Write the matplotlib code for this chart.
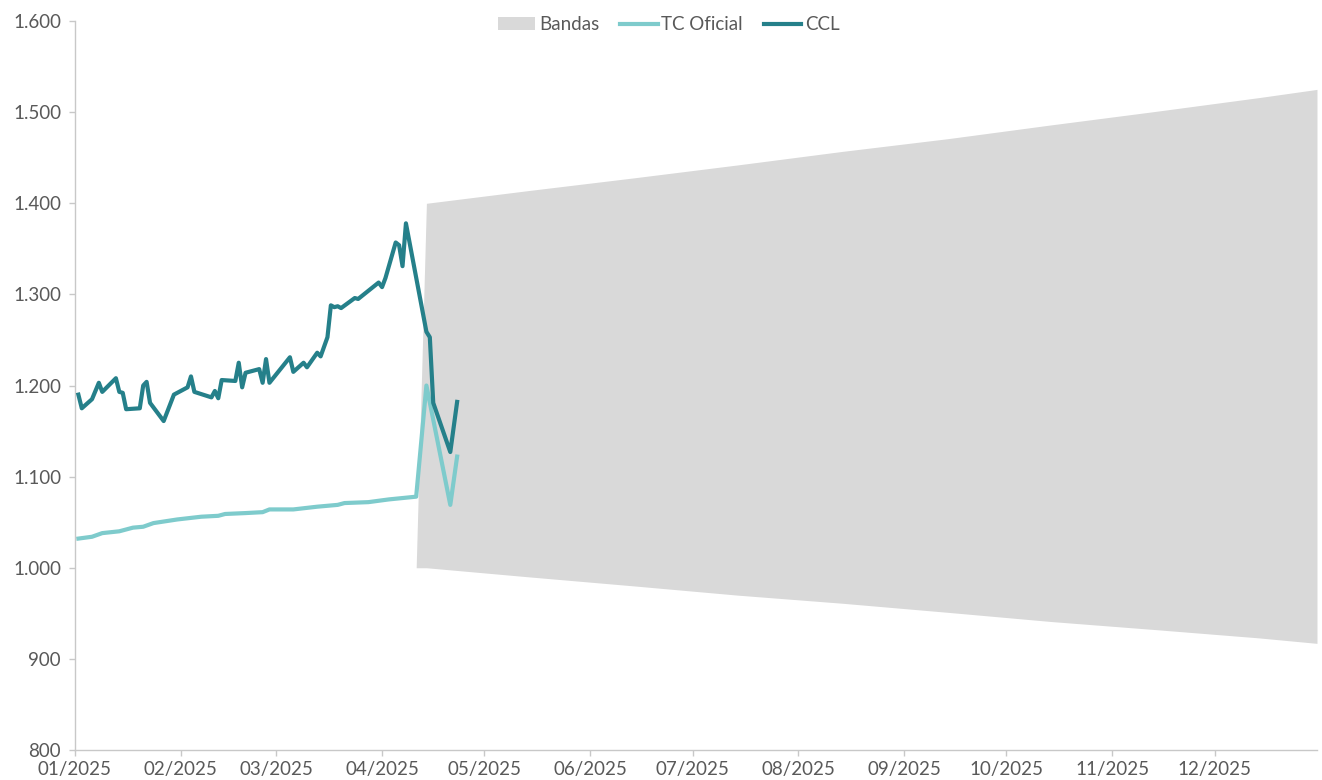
import numpy as np
import pandas as pd
import matplotlib
matplotlib.use("Agg")
import matplotlib.pyplot as plt
import matplotlib.dates as mdates
from matplotlib.ticker import FuncFormatter
from matplotlib.patches import Patch
from matplotlib.lines import Line2D

# CCL quotes
ccl_dates = ["2025-01-02", "2025-01-03", "2025-01-06", "2025-01-08", "2025-01-09",
             "2025-01-13", "2025-01-14", "2025-01-15", "2025-01-16", "2025-01-20",
             "2025-01-21", "2025-01-22", "2025-01-23", "2025-01-27", "2025-01-30",
             "2025-02-03", "2025-02-04", "2025-02-05", "2025-02-10", "2025-02-11",
             "2025-02-12", "2025-02-13", "2025-02-17", "2025-02-18", "2025-02-19",
             "2025-02-20", "2025-02-24", "2025-02-25", "2025-02-26", "2025-02-27",
             "2025-03-05", "2025-03-06", "2025-03-09", "2025-03-10", "2025-03-13",
             "2025-03-14", "2025-03-16", "2025-03-17", "2025-03-18", "2025-03-19",
             "2025-03-20", "2025-03-24", "2025-03-25", "2025-03-31", "2025-04-01",
             "2025-04-02", "2025-04-05", "2025-04-06", "2025-04-07", "2025-04-08",
             "2025-04-14", "2025-04-15", "2025-04-16", "2025-04-21", "2025-04-23"]
ccl_values = [1190, 1175, 1185, 1203, 1193,
              1208, 1193, 1192, 1174, 1175,
              1200, 1204, 1181, 1161, 1190,
              1198, 1210, 1193, 1187, 1194,
              1186, 1206, 1205, 1225, 1198,
              1214, 1218, 1203, 1229, 1203,
              1231, 1215, 1225, 1220, 1236,
              1232, 1253, 1288, 1286, 1287,
              1285, 1296, 1295, 1313, 1308,
              1318, 1357, 1354, 1331, 1378,
              1259, 1253, 1181, 1127, 1182]

# Official exchange rate
oficial_dates = ["2025-01-02", "2025-01-06", "2025-01-09", "2025-01-14", "2025-01-18",
                 "2025-01-21", "2025-01-24", "2025-01-31", "2025-02-07", "2025-02-12",
                 "2025-02-14", "2025-02-20", "2025-02-25", "2025-02-27", "2025-03-06",
                 "2025-03-13", "2025-03-19", "2025-03-21", "2025-03-28", "2025-04-03",
                 "2025-04-11", "2025-04-14", "2025-04-21", "2025-04-23"]
oficial_values = [1032, 1034, 1038, 1040, 1044,
                  1045, 1049, 1053, 1056, 1057,
                  1059, 1060, 1061, 1064, 1064,
                  1067, 1069, 1071, 1072, 1075,
                  1078, 1200, 1069, 1122]

# Exchange rate bands (floor and ceiling)
band_dates = ["2025-04-11", "2025-04-14", "2025-05-14", "2025-06-14", "2025-07-14",
              "2025-08-14", "2025-09-14", "2025-10-14", "2025-11-14", "2025-12-14",
              "2025-12-31"]
band_lower = [1000, 1000, 990, 980, 970, 961, 951, 941, 932, 923, 917]
band_upper = [1000, 1400, 1414, 1428, 1442, 1457, 1471, 1486, 1501, 1516, 1525]

ccl_dates = pd.to_datetime(ccl_dates)
oficial_dates = pd.to_datetime(oficial_dates)
band_dates = pd.to_datetime(band_dates)

color_band = "#d9d9d9"
color_oficial = "#7ecbcc"
color_ccl = "#25808a"
text_color = "#595959"
lw = 3.0

plt.rcParams["font.family"] = ["Lato", "DejaVu Sans"]

fig = plt.figure(figsize=(13.22, 7.80), dpi=100)
ax = fig.add_axes([0.0567, 0.0385, 0.9395, 0.9345])

ax.fill_between(band_dates, band_lower, band_upper, color=color_band, linewidth=0, zorder=1)
ax.plot(oficial_dates, oficial_values, color=color_oficial, linewidth=lw, zorder=2,
        solid_joinstyle="round")
ax.plot(ccl_dates, ccl_values, color=color_ccl, linewidth=lw, zorder=3,
        solid_joinstyle="round")

ax.set_xlim(pd.Timestamp("2025-01-01"), pd.Timestamp("2025-12-31"))
ax.set_ylim(800, 1600)
ax.set_yticks(np.arange(800, 1601, 100))
ax.yaxis.set_major_formatter(FuncFormatter(lambda v, p: f"{int(v):,}".replace(",", ".")))
ax.xaxis.set_major_locator(mdates.MonthLocator())
ax.xaxis.set_major_formatter(mdates.DateFormatter("%m/%Y"))

for side in ["top", "right"]:
    ax.spines[side].set_visible(False)
for side in ["left", "bottom"]:
    ax.spines[side].set_color("#c8c8c8")
    ax.spines[side].set_linewidth(1.0)

ax.tick_params(axis="both", colors="#c8c8c8", labelcolor=text_color, labelsize=13.5,
               length=4, width=1)
ax.tick_params(axis="x", pad=4)
ax.tick_params(axis="y", pad=6)

handles = [Patch(facecolor=color_band, edgecolor="none"),
           Line2D([0], [0], color=color_oficial, linewidth=lw),
           Line2D([0], [0], color=color_ccl, linewidth=lw)]
leg = ax.legend(handles, ["Bandas", "TC Oficial", "CCL"], loc="upper center",
                bbox_to_anchor=(0.478, 1.03), ncol=3, frameon=False, fontsize=13.5,
                handlelength=2.0, handletextpad=0.2, columnspacing=1.1)
for t in leg.get_texts():
    t.set_color(text_color)

fig.savefig("out.png", dpi=100)
